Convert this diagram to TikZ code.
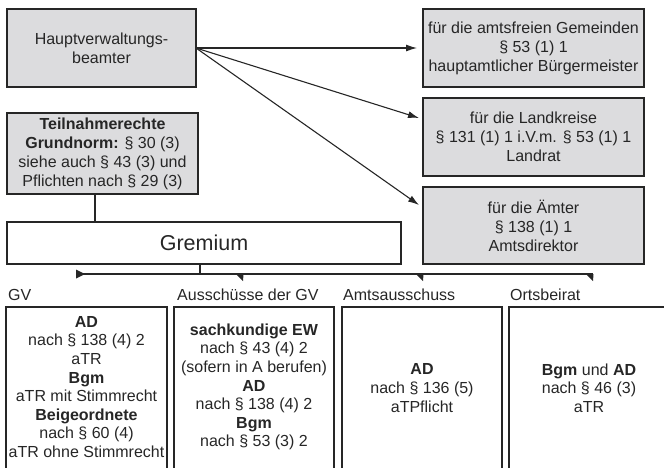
\documentclass[tikz,border=0pt]{standalone}
\usepackage{fontspec}
\setmainfont{Liberation Sans}
\usepackage{xcolor}
\usetikzlibrary{arrows.meta, positioning}

\definecolor{boxgray}{RGB}{220,220,222}
\definecolor{ink}{RGB}{38,38,38}

\begin{document}
\begin{tikzpicture}[x=1pt, y=-1pt,
  box/.style={draw=ink, line width=1.2pt, fill=boxgray, inner sep=0pt, outer sep=0pt, align=center, text=ink, font=\fontsize{16}{19}\selectfont},
  plainbox/.style={box, fill=white},
  conn/.style={draw=ink, line width=1.1pt},
  arr/.style={conn, -{Latex[length=11pt, width=7pt]}},
  lab/.style={anchor=west, inner sep=0pt, text=ink, font=\fontsize{16}{19}\selectfont},
  body/.style={align=center, inner sep=0pt, text=ink, font=\fontsize{16}{18.6}\selectfont},
  col/.style={draw=ink, line width=1.2pt}
]
  \useasboundingbox (0,0) rectangle (664,467);
  \clip (0,0) rectangle (664,467);

  % left column
  \node[box, minimum width=189pt, minimum height=78pt] (hvb) at (101.5,48) {Hauptverwaltungs-\\beamter};
  \node[box, minimum width=191pt, minimum height=81pt] (teil) at (102.5,153.5)
    {\textbf{Teilnahmerechte}\\\textbf{Grundnorm:} § 30 (3)\\siehe auch § 43 (3) und\\Pflichten nach § 29 (3)};
  \node[plainbox, minimum width=394pt, minimum height=42pt, font=\fontsize{21.5}{24}\selectfont] (grem) at (204,243) {Gremium};

  % right column
  \node[box, minimum width=221pt, minimum height=78pt] (gem) at (533.5,48)
    {für die amtsfreien Gemeinden\\§ 53 (1) 1\\hauptamtlicher Bürgermeister};
  \node[box, minimum width=221pt, minimum height=78pt] (lk) at (533.5,137)
    {für die Landkreise\\§ 131 (1) 1 i.V.m. § 53 (1) 1\\Landrat};
  \node[box, minimum width=221pt, minimum height=77pt] (amt) at (533.5,225.5)
    {für die Ämter\\§ 138 (1) 1\\Amtsdirektor};

  \coordinate (tgem) at (417,48);
  \coordinate (tlk) at (419,118);
  \coordinate (tamt) at (419,205);
  \draw[arr] (hvb.east) -- (tgem);
  \draw[arr] (hvb.east) -- (tlk);
  \draw[arr] (hvb.east) -- (tamt);

  \draw[conn] ([xshift=-7.5pt]teil.south) -- ([xshift=-7.5pt]teil.south |- grem.north);

  % bracket
  \coordinate (bl) at (77,274);
  \coordinate (m1) at (243,274);
  \coordinate (m2) at (423,274);
  \coordinate (br) at (593,274);
  \draw[conn] ([xshift=-4pt]grem.south) -- ([xshift=-4pt]grem.south |- bl);
  \draw[conn] (bl) -- (br);
  \fill[ink] (bl) ++(-1,-4.5) -- ++(0,9) -- ++(9,-4.5) -- cycle;
  \foreach \t in {m1,m2,br}
    \fill[ink] (\t) ++(-7,0) -- ++(7.5,0) -- ++(-0.5,7) -- cycle;

  % columns
  \node[lab] (gvlab) at (8,295) {GV};
  \node[lab] (auslab) at (177,295) {Ausschüsse der GV};
  \node[lab] (amtlab) at (343,295) {Amtsausschuss};
  \node[lab] (ortlab) at (510,295) {Ortsbeirat};

  \foreach \l/\r in {6/167,174/334,342/502,509/680}
    \draw[col] (\l,475) -- (\l,307) -- (\r,307) -- (\r,475);

  \node[body] (gvtxt) at (86.5,387)
    {\textbf{AD}\\nach § 138 (4) 2\\aTR\\\textbf{Bgm}\\aTR mit Stimmrecht\\\textbf{Beigeordnete}\\nach § 60 (4)\\aTR ohne Stimmrecht};
  \node[body] (austxt) at (254,387)
    {\textbf{sachkundige EW}\\nach § 43 (4) 2\\(sofern in A berufen)\\\textbf{AD}\\nach § 138 (4) 2\\\textbf{Bgm}\\nach § 53 (3) 2};
  \node[body] (amttxt) at (422,388)
    {\textbf{AD}\\nach § 136 (5)\\aTPflicht};
  \node[body] (orttxt) at (589,388)
    {\textbf{Bgm} und \textbf{AD}\\nach § 46 (3)\\aTR};
\end{tikzpicture}
\end{document}
